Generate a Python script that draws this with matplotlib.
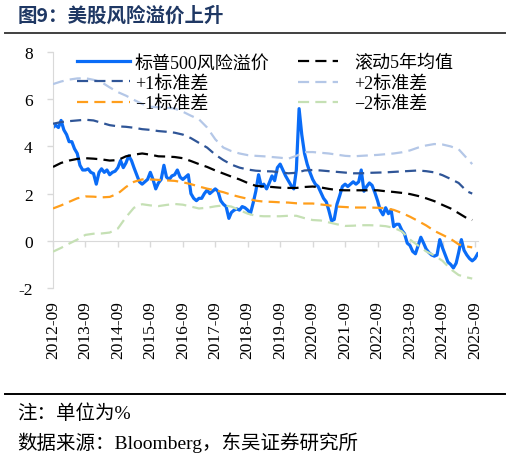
import numpy as np
import pandas as pd
import matplotlib
matplotlib.use("Agg")
import matplotlib.pyplot as plt
import matplotlib.dates as mdates
from matplotlib.lines import Line2D

# S&P 500 risk premium, monthly, 2012-09 .. 2025-10 (%)
premium_start = "2012-09-01"
premium = [
    4.8, 4.9, 4.8, 5.1, 4.7, 4.5, 4.2, 4.2, 3.9, 3.7, 3.2, 3.0,
    3.0, 3.05, 2.9, 2.85, 2.4, 2.9, 3.05, 2.9, 3.0, 2.8, 2.9, 2.95,
    3.1, 3.4, 3.1, 3.3, 3.6, 3.4, 3.1, 2.8, 2.5, 2.4, 2.5, 2.6,
    2.9, 2.6, 2.2, 2.45, 2.6, 3.2, 2.7, 2.6, 2.75, 2.8, 3.0, 2.7,
    2.6, 2.7, 2.8, 2.0, 1.8, 1.7, 1.8, 1.8, 2.0, 2.15, 2.0, 2.1,
    2.2, 2.1, 1.7, 1.55, 1.45, 0.95, 1.2, 1.3, 1.35, 1.3, 1.45, 1.4,
    1.3, 1.15, 1.6, 2.1, 2.8, 2.3, 2.4, 2.2, 2.45, 2.75, 2.55, 3.1,
    3.25, 3.0, 2.75, 2.55, 2.35, 2.2, 3.0, 5.6, 4.5, 3.7, 3.25, 2.9,
    2.6, 2.4, 2.3, 2.05, 1.8, 1.65, 1.3, 0.85, 0.9, 1.55, 1.9, 2.3,
    2.4, 2.3, 2.4, 2.5, 2.4, 2.5, 3.0, 2.1, 2.3, 2.45, 2.35, 2.05,
    1.7, 1.3, 1.1, 1.4, 1.15, 1.3, 0.6, 0.7, 0.7, 0.45, 0.3, -0.1,
    -0.2, -0.45, -0.55, -0.2, 0.15, -0.1, -0.35, -0.5, -0.6, -0.65, -0.6, 0.05,
    -0.3, -0.6, -0.9, -1.0, -1.15, -0.95, -0.5, 0.05, -0.4, -0.6, -0.75, -0.85,
    -0.75, -0.55,
]

# rolling bands, quarterly 2012-09 .. 2025-06, then 2025-08
band_dates = list(pd.date_range("2012-09-01", "2025-06-01", freq="3MS")) + [pd.Timestamp("2025-08-01")]
mean5y = [
    3.13, 3.3, 3.4, 3.47, 3.5, 3.48, 3.45, 3.4, 3.42, 3.58, 3.65, 3.7,
    3.65, 3.58, 3.57, 3.55, 3.5, 3.38, 3.25, 3.13, 2.98, 2.85, 2.72, 2.6,
    2.45, 2.33, 2.3, 2.28, 2.25, 2.24, 2.24, 2.28, 2.3, 2.26, 2.2, 2.15,
    2.14, 2.14, 2.14, 2.14, 2.14, 2.1, 2.07, 2.03, 1.98, 1.9, 1.8, 1.68,
    1.52, 1.37, 1.17, 0.96, 0.88,
]
plus1 = [
    4.96, 5.03, 5.07, 5.1, 5.13, 5.1, 5.0, 4.9, 4.85, 4.83, 4.79, 4.73,
    4.7, 4.65, 4.62, 4.58, 4.5, 4.35, 4.15, 3.95, 3.65, 3.42, 3.23, 3.1,
    3.02, 2.97, 2.95, 2.94, 2.9, 2.86, 2.88, 2.98, 3.0, 2.98, 2.95, 2.92,
    2.89, 2.86, 2.86, 2.88, 2.89, 2.9, 2.92, 2.94, 2.96, 2.98, 2.95, 2.9,
    2.78, 2.62, 2.45, 2.1, 2.0,
]
plus2 = [
    6.64, 6.75, 6.83, 6.88, 6.89, 6.82, 6.72, 6.5, 6.3, 6.15, 5.97, 5.8,
    5.68, 5.66, 5.64, 5.6, 5.47, 5.3, 5.15, 4.8, 4.3, 3.95, 3.8, 3.7,
    3.63, 3.6, 3.58, 3.55, 3.52, 3.48, 3.6, 3.76, 3.76, 3.73, 3.7, 3.65,
    3.6, 3.58, 3.6, 3.62, 3.64, 3.67, 3.7, 3.75, 3.83, 3.95, 4.04, 4.1,
    4.08, 4.0, 3.88, 3.5, 3.25,
]
minus1 = [
    1.37, 1.5, 1.65, 1.8, 1.88, 1.87, 1.84, 1.86, 2.0, 2.28, 2.5, 2.6,
    2.6, 2.58, 2.56, 2.54, 2.48, 2.4, 2.3, 2.21, 2.14, 2.06, 1.95, 1.86,
    1.78, 1.7, 1.66, 1.65, 1.63, 1.62, 1.59, 1.58, 1.58, 1.54, 1.5, 1.45,
    1.43, 1.41, 1.41, 1.41, 1.4, 1.38, 1.31, 1.18, 1.02, 0.84, 0.65, 0.42,
    0.25, 0.08, -0.15, -0.24, -0.28,
]
minus2 = [
    -0.46, -0.3, -0.12, 0.05, 0.25, 0.3, 0.31, 0.35, 0.52, 1.0, 1.4, 1.55,
    1.5, 1.47, 1.52, 1.56, 1.53, 1.45, 1.37, 1.4, 1.46, 1.5, 1.45, 1.3,
    1.15, 1.06, 1.04, 1.04, 1.04, 1.06, 1.06, 0.96, 0.88, 0.86, 0.78, 0.7,
    0.63, 0.64, 0.66, 0.66, 0.65, 0.62, 0.55, 0.4, 0.05, -0.2, -0.45, -0.62,
    -0.85, -1.2, -1.45, -1.55, -1.6,
]

tick_labels = [f"{y}-09" for y in range(2012, 2026)]

plt.rcParams["font.family"] = ["Liberation Serif", "Noto Sans CJK SC"]
plt.rcParams["axes.unicode_minus"] = False

W, H = 510, 460
fig = plt.figure(figsize=(W / 100, H / 100), dpi=100)
ax = fig.add_axes([53 / W, 1 - 289 / H, (478 - 53) / W, (289 - 53) / H])

premium_dates = pd.date_range(premium_start, periods=len(premium), freq="MS")
lw_d = 1.6
l_prem, = ax.plot(premium_dates, premium, color="#0A6CF7", lw=2.3, zorder=2, label="标普500风险溢价")
l_mean, = ax.plot(band_dates, mean5y, color="black", lw=lw_d, dashes=(5, 2.8), zorder=3, label="滚动5年均值")
l_p1, = ax.plot(band_dates, plus1, color="#2F5597", lw=lw_d, dashes=(5, 2.8), zorder=3, label="+1标准差")
l_p2, = ax.plot(band_dates, plus2, color="#B4C7E7", lw=lw_d, dashes=(5, 2.8), zorder=3, label="+2标准差")
l_m1, = ax.plot(band_dates, minus1, color="#FF9E1B", lw=lw_d, dashes=(5, 2.8), zorder=3, label="\u22121标准差")
l_m2, = ax.plot(band_dates, minus2, color="#C5E0B4", lw=lw_d, dashes=(5, 2.8), zorder=3, label="\u22122标准差")

ax.set_ylim(-2, 8)
ax.set_yticks([-2, 0, 2, 4, 6, 8])
ax.set_xlim(pd.Timestamp("2012-09-01"), pd.Timestamp("2025-10-05"))
tick_pos = [mdates.date2num(pd.Timestamp(f"{y}-09-01")) for y in range(2012, 2026)]

grey = "#D9D9D9"
for s in ["top", "right", "bottom"]:
    ax.spines[s].set_visible(False)
ax.spines["left"].set_color(grey)
ax.tick_params(axis="y", colors=grey, length=4, width=1, pad=10.5, labelcolor="black", labelsize=12.5)
ax.set_xticks(tick_pos)
ax.set_xticklabels(tick_labels, rotation=90, fontsize=12.5)
ax.tick_params(axis="x", length=0, pad=9)

# zero line carrying the tick marks
zax = ax.secondary_xaxis(0.2)
zax.set_xticks(tick_pos)
zax.tick_params(axis="x", colors=grey, length=4, width=1, labelbottom=False)
zax.spines["bottom"].set_color(grey)

leg1 = ax.legend(handles=[l_prem, l_p1, l_m1], loc="upper left", bbox_to_anchor=(0.04, 1.02),
                 frameon=False, fontsize=13, handlelength=2.9, handletextpad=0.3, labelspacing=0.18,
                 borderaxespad=0)
ax.add_artist(leg1)
ax.legend(handles=[l_mean, l_p2, l_m2], loc="upper left", bbox_to_anchor=(0.56, 1.02),
          frameon=False, fontsize=13, handlelength=2.2, handletextpad=0.9, labelspacing=0.18,
          borderaxespad=0)

fig.text(18 / W, 1 - 16 / H, "图9：美股风险溢价上升", fontsize=14, fontweight="bold",
         color="#1F3864", va="center", ha="left", family=["Noto Sans CJK SC"])
fig.add_artist(Line2D([5 / W, 505 / W], [1 - 34 / H] * 2, color="#404040", lw=1.4))
fig.add_artist(Line2D([5 / W, 505 / W], [1 - 395 / H] * 2, color="black", lw=1.4))
fig.text(17 / W, 1 - 414 / H, "注：单位为%", fontsize=14, va="center", ha="left")
fig.text(17 / W, 1 - 443 / H, "数据来源：Bloomberg，东吴证券研究所", fontsize=14, va="center", ha="left")

fig.savefig("out.png", dpi=100)
